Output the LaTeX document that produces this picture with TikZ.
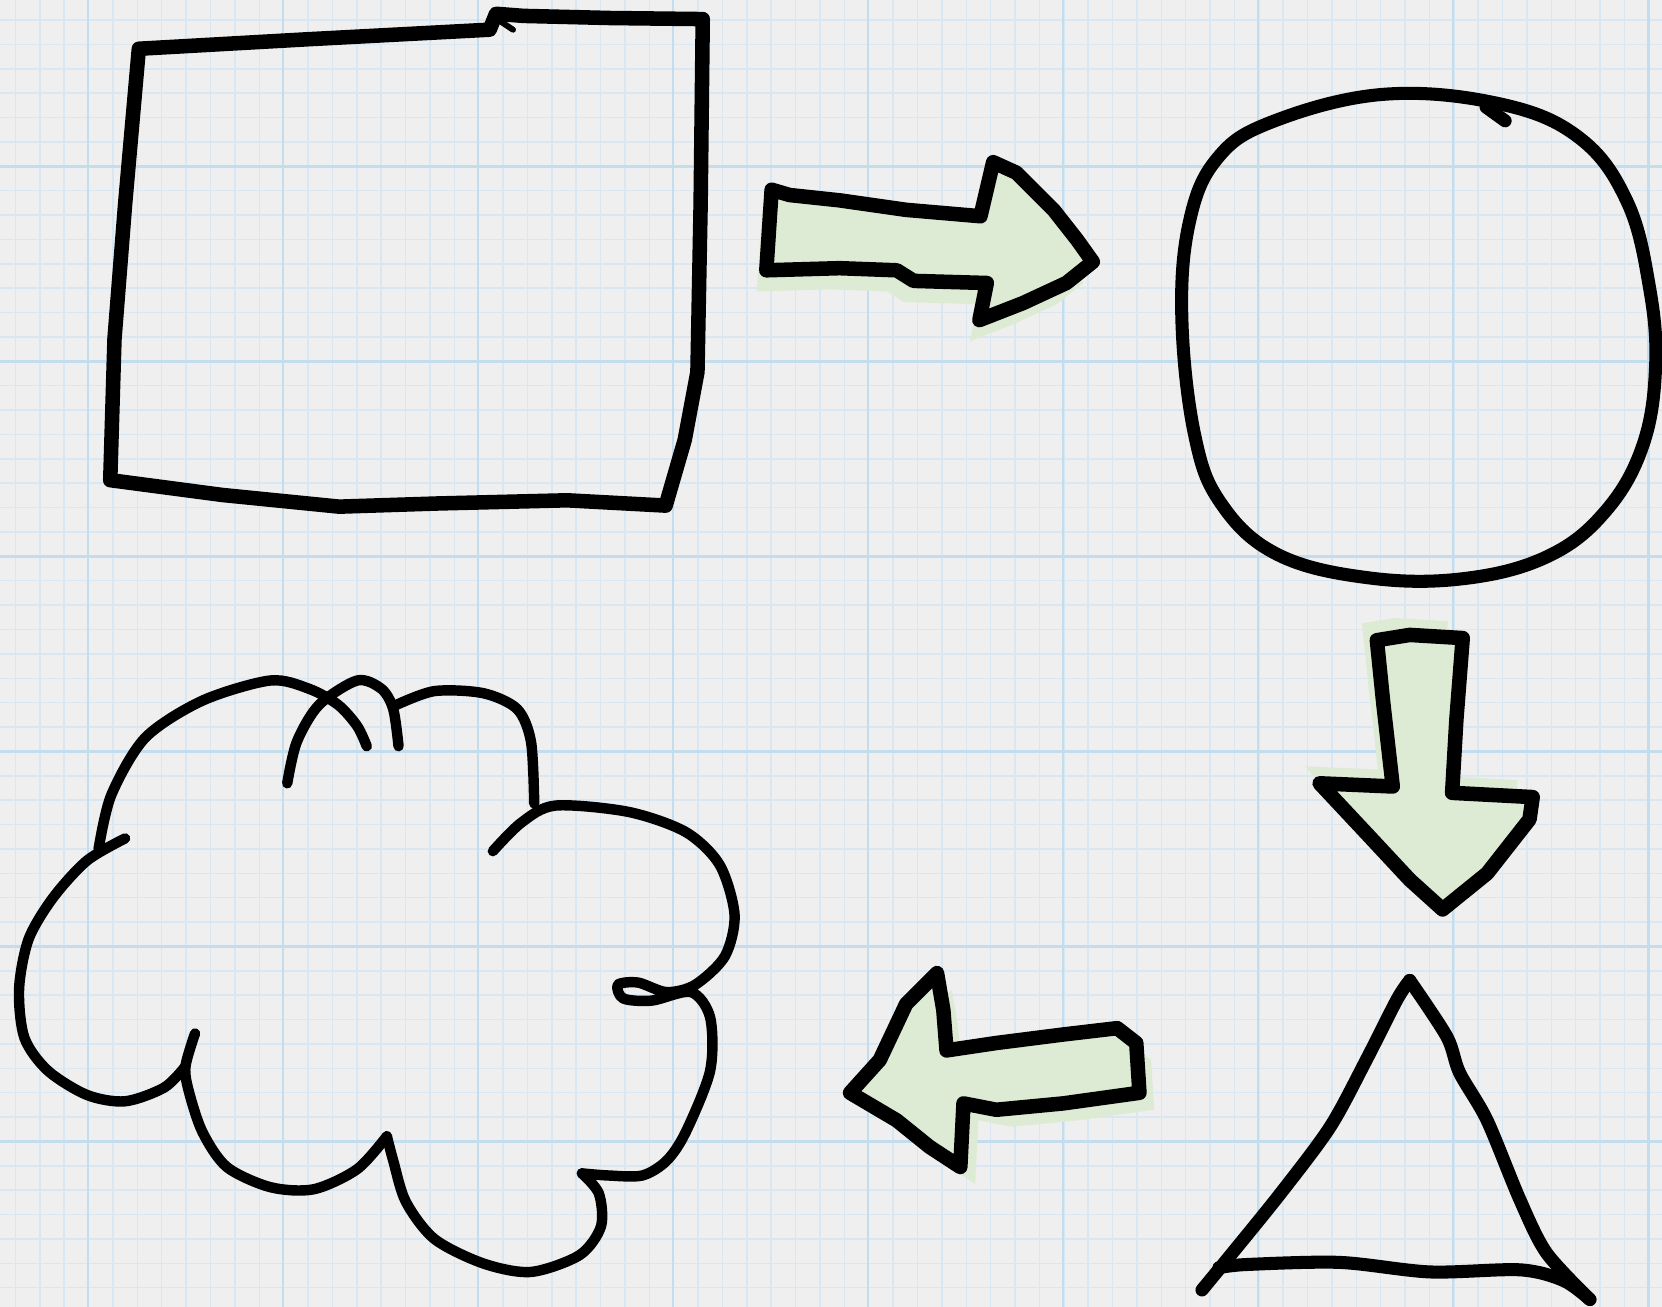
\documentclass[tikz,border=0pt]{standalone}
\usepackage{xcolor}
\usepackage{tikz}
\definecolor{paperbg}{HTML}{EFEFEF}
\definecolor{gridlight}{HTML}{D8E7F1}
\definecolor{griddark}{HTML}{C4DDEE}
\definecolor{leafgreen}{HTML}{DDEBD5}
\tikzset{
  gridminor/.style={draw=gridlight, line width=0.4pt},
  gridmajor/.style={draw=griddark, line width=0.7pt},
  pen/.style={draw=black, line width=3.5pt, line cap=round, line join=round},
  fatpen/.style={pen, line width=3.9pt},
  thinpen/.style={pen, line width=2.8pt},
  blockarrow/.style={pen, line width=3.9pt, fill=leafgreen,
                     preaction={fill=leafgreen, transform canvas={shift={#1}}}}
}

\begin{document}
\begin{tikzpicture}[x=0.01cm, y=-0.01cm]
  \fill[paperbg] (0,0) rectangle (1568,1233);
  \useasboundingbox (0,0) rectangle (1568,1233);
  \foreach \i in {0,...,67} \draw[gridminor] ({14.6+23*\i},0) -- ({14.6+23*\i},1233);
  \foreach \j in {0,...,52} \draw[gridminor] (0,{18.9+23*\j}) -- (1568,{18.9+23*\j});
  \foreach \i in {0,...,8} \draw[gridmajor] ({83+184*\i},0) -- ({83+184*\i},1233);
  \foreach \j in {0,...,5} \draw[gridmajor] (0,{157+184*\j}) -- (1568,{157+184*\j});

  \draw[fatpen] (131,46) -- (291,37) -- (462,28) -- (468,13) -- (494,15) -- (576,17)
    -- (663,18) -- (661,193) -- (658,351) -- (646,415) -- (628,477) -- (535,472) -- (413,475)
    -- (320,478) -- (210,467) -- (104,453) -- (108,320) -- (118,193) -- cycle;
  \draw[pen, line width=1.6pt] (472,20) -- (484,28);

  \draw[pen] plot[smooth cycle, tension=0.65] coordinates {(1305,89) (1415,98) (1490,130)
    (1535,190) (1556,270) (1562,345) (1550,420) (1515,482) (1460,525) (1380,546) (1290,545)
    (1205,523) (1152,475) (1127,410) (1115,300) (1122,210) (1148,150) (1200,115)};
  \draw[pen] (1420,114) -- (1402,101);

  \draw[pen] plot[smooth] coordinates {(1134,1217) (1157,1189) (1208,1126) (1255,1063)
    (1289,1000) (1318,943) (1330,925)};
  \draw[pen] plot[smooth] coordinates {(1330,925) (1365,978) (1377,1012) (1403,1057)
    (1434,1132) (1459,1182) (1500,1226)};
  \draw[pen] plot[smooth] coordinates {(1150,1196) (1176,1193) (1264,1191) (1349,1200)
    (1434,1198) (1475,1208) (1500,1226)};

  \draw[thinpen] plot[smooth] coordinates {(93,801) (105,750) (137,696) (191,661) (255,642)
    (292,650) (319,665) (337,685) (346,704)};
  \draw[thinpen] plot[smooth] coordinates {(271,739) (280,700) (301,665) (337,642) (360,650)
    (371,669) (376,704)};
  \draw[thinpen] plot[smooth] coordinates {(374,665) (410,652) (456,654) (488,669) (501,700)
    (504,758)};
  \draw[thinpen] plot[smooth] coordinates {(465,803) (492,776) (524,760) (593,766) (647,785)
    (679,816) (693,863) (684,902) (656,929) (629,936) (602,927) (583,929) (588,942) (615,944)
    (652,936) (670,960) (670,1010) (647,1068) (629,1095) (606,1109) (574,1109) (549,1107)};
  \draw[thinpen] plot[smooth] coordinates {(549,1107) (565,1126) (567,1157) (547,1184)
    (501,1200) (456,1192) (410,1169) (383,1134) (371,1095) (365,1072)};
  \draw[thinpen] plot[smooth] coordinates {(365,1072) (337,1103) (296,1122) (255,1120)
    (214,1101) (191,1068) (178,1029) (175,1006) (184,975)};
  \draw[thinpen] plot[smooth] coordinates {(175,1006) (155,1026) (118,1039) (82,1033)
    (45,1010) (23,979) (18,933) (27,886) (50,847) (82,812) (118,791)};

  \draw[blockarrow={(-9,20)}] (728,179) -- (745,184) -- (792,189) -- (855,198) -- (925,204)
    -- (937,153) -- (959,163) -- (994,198) -- (1016,226) -- (1031,247) -- (1006,267)
    -- (965,286) -- (924,302) -- (931,267) -- (862,265) -- (846,255) -- (792,253)
    -- (723,255) -- cycle;
  \draw[blockarrow={(-14,-16)}] (1299,604) -- (1330,599) -- (1380,602) -- (1374,679)
    -- (1370,748) -- (1446,752) -- (1443,773) -- (1403,824) -- (1361,858) -- (1330,830)
    -- (1289,786) -- (1245,739) -- (1314,742) -- (1305,663) -- cycle;
  \draw[blockarrow={(14,16)}] (802,1031) -- (830,1000) -- (855,947) -- (884,918) -- (890,953)
    -- (893,991) -- (940,984) -- (1003,976) -- (1054,970) -- (1072,984) -- (1075,1031)
    -- (1003,1041) -- (940,1047) -- (909,1041) -- (906,1101) -- (877,1082) -- (846,1057)
    -- cycle;
\end{tikzpicture}
\end{document}
